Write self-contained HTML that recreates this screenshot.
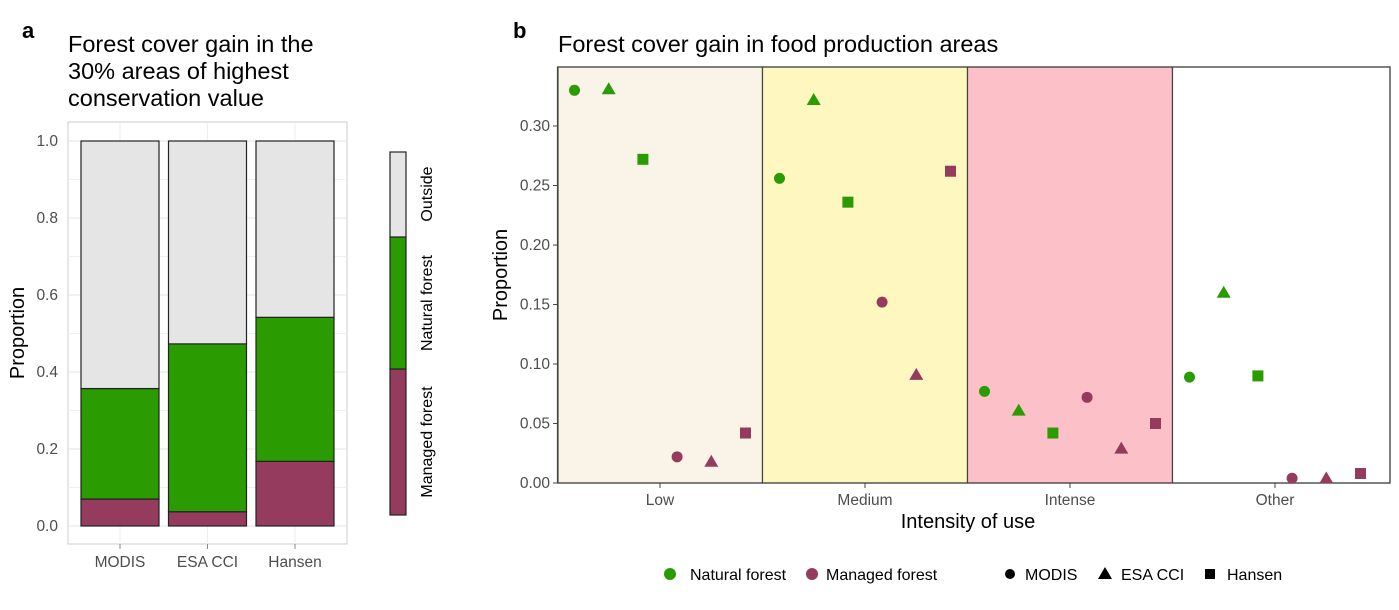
<!DOCTYPE html>
<html><head><meta charset="utf-8"><style>
body{margin:0;background:#fff;font-family:"Liberation Sans",Arial,sans-serif}
svg text{font-family:"Liberation Sans",Arial,sans-serif}
</style></head><body>
<svg id="chart" width="1399" height="605" viewBox="0 0 1399 605" xmlns="http://www.w3.org/2000/svg">
<rect width="1399" height="605" fill="#fff"/>
<text x="22" y="38" font-size="22" font-weight="bold">a</text>
<text x="513" y="38" font-size="22" font-weight="bold">b</text>
<g font-size="23.5" fill="#000">
<text x="68" y="52">Forest cover gain in the</text>
<text x="68" y="79">30% areas of highest</text>
<text x="68" y="106">conservation value</text>
</g>
<text x="558" y="52" font-size="23.5">Forest cover gain in food production areas</text>
<g id="pa"></g>
<g id="pb"></g>
<g id="legb" font-size="16">
<circle cx="670" cy="574" r="6" fill="#2a9c02"/><text x="690" y="580">Natural forest</text>
<circle cx="812" cy="574" r="6" fill="#943b5e"/><text x="826" y="580">Managed forest</text>
<circle cx="1010" cy="574" r="5" fill="#000"/><text x="1025" y="580">MODIS</text>
<polygon points="1105,567 1112,579 1098,579" fill="#000"/><text x="1121" y="580">ESA CCI</text>
<rect x="1205" y="569" width="10" height="10" fill="#000"/><text x="1227" y="580">Hansen</text>
</g>
</svg>
<script>
const NS="http://www.w3.org/2000/svg";
const productsA=["MODIS","ESA CCI","Hansen"];
const managedA=[0.07,0.037,0.168];
const naturalA=[0.287,0.436,0.374];
const outsideA=[0.643,0.527,0.458];
const ticksA=[0,0.2,0.4,0.6,0.8,1.0];
const categoriesB=["Low","Medium","Intense","Other"];
const natModis=[0.33,0.256,0.077,0.089];
const natEsa=[0.33,0.321,0.06,0.159];
const natHansen=[0.272,0.236,0.042,0.09];
const manModis=[0.022,0.152,0.072,0.004];
const manEsa=[0.017,0.09,0.028,0.003];
const manHansen=[0.042,0.262,0.05,0.008];
const ticksB=[0,0.05,0.10,0.15,0.20,0.25,0.30];
const GREEN="#2a9c02",MAROON="#943b5e";
function mk(t,a,p){const e=document.createElementNS(NS,t);for(const k in a)e.setAttribute(k,a[k]);(p||document.getElementById('chart')).appendChild(e);return e;}
// Panel a
const pa=document.getElementById('pa');
const yA=v=>526-v*385;
mk('rect',{x:68,y:122,width:279,height:422,fill:'#fff',stroke:'#ccc'},pa);
for(let v=0.1;v<1.05;v+=0.2) mk('line',{x1:68,x2:347,y1:yA(v),y2:yA(v),stroke:'#f0f0f0'},pa);
ticksA.forEach(v=>{mk('line',{x1:68,x2:347,y1:yA(v),y2:yA(v),stroke:'#e6e6e6'},pa);
 const t=mk('text',{x:58,y:yA(v)+5,'font-size':15.5,fill:'#4d4d4d','text-anchor':'end'},pa);t.textContent=v.toFixed(1);
 });
const xA=i=>120+i*87.5;
productsA.forEach((p,i)=>{mk('line',{x1:xA(i),x2:xA(i),y1:122,y2:544,stroke:'#eee'},pa);
 mk('line',{x1:xA(i),x2:xA(i),y1:544,y2:549,stroke:'#888'},pa);
 const t=mk('text',{x:xA(i),y:567,'font-size':15.5,fill:'#4d4d4d','text-anchor':'middle'},pa);t.textContent=p;
 });
productsA.forEach((p,i)=>{let b=0;
 [[managedA[i],MAROON],[naturalA[i],GREEN],[outsideA[i],'#e5e5e5']].forEach(([v,c])=>{
  const r=mk('rect',{x:xA(i)-39,y:yA(b+v),width:78,height:yA(b)-yA(b+v),fill:c,stroke:'#222','stroke-width':1.2},pa);
  b+=v;});});
const ya=mk('text',{x:24,y:333,'font-size':20,'text-anchor':'middle',transform:'rotate(-90 24 333)'},pa);ya.textContent='Proportion';

// legend a
[[369,515,MAROON,'Managed forest',442],[237,369,GREEN,'Natural forest',303],[152,237,'#e5e5e5','Outside',194]].forEach(([y1,y2,c,l,ym])=>{
 mk('rect',{x:390,y:y1,width:16,height:y2-y1,fill:c,stroke:'#222','stroke-width':1.2},pa);
 const t=mk('text',{x:432,y:ym,'font-size':16,'text-anchor':'middle',transform:`rotate(-90 432 ${ym})`},pa);t.textContent=l;
 });
// Panel b
const pb=document.getElementById('pb');
const yB=v=>483-v*1190;
const xB=i=>660+i*205;
const bgs=['#faf3e8','#fef8c0','#fcc0c8','#fff'];
categoriesB.forEach((c,i)=>{const x0=xB(i)-102.5;const w=(i===categoriesB.length-1)?1390-x0:205;
 const r=mk('rect',{x:x0,y:67,width:w,height:416,fill:bgs[i],stroke:'#444','stroke-width':1.2},pb);
 
 mk('line',{x1:xB(i),x2:xB(i),y1:483,y2:488,stroke:'#444'},pb);
 const t=mk('text',{x:xB(i),y:505,'font-size':15.5,fill:'#4d4d4d','text-anchor':'middle'},pb);t.textContent=c;
 });
mk('rect',{x:558,y:67,width:832,height:416,fill:'none',stroke:'#444','stroke-width':1.2},pb);
ticksB.forEach(v=>{mk('line',{x1:553,x2:558,y1:yB(v),y2:yB(v),stroke:'#444'},pb);
 const t=mk('text',{x:550,y:yB(v)+5,'font-size':15.5,fill:'#4d4d4d','text-anchor':'end'},pb);t.textContent=v.toFixed(2);
 });
const series=[[natModis,GREEN,'c'],[natEsa,GREEN,'t'],[natHansen,GREEN,'s'],[manModis,MAROON,'c'],[manEsa,MAROON,'t'],[manHansen,MAROON,'s']];
series.forEach(([vals,col,sh],j)=>vals.forEach((v,i)=>{
 const x=xB(i)+(j-2.5)*34.2,y=yB(v);let e;
 if(sh==='c') e=mk('circle',{cx:x,cy:y,r:5.5,fill:col},pb);
 else if(sh==='t') e=mk('polygon',{points:`${x},${y-8} ${x+7},${y+4} ${x-7},${y+4}`,fill:col},pb);
 else e=mk('rect',{x:x-5.5,y:y-5.5,width:11,height:11,fill:col},pb);
 }));
const xt=mk('text',{x:968,y:528,'font-size':20,'text-anchor':'middle'},pb);xt.textContent='Intensity of use';

const yt=mk('text',{x:507,y:275,'font-size':20,'text-anchor':'middle',transform:'rotate(-90 507 275)'},pb);yt.textContent='Proportion';

</script>
</body></html>
